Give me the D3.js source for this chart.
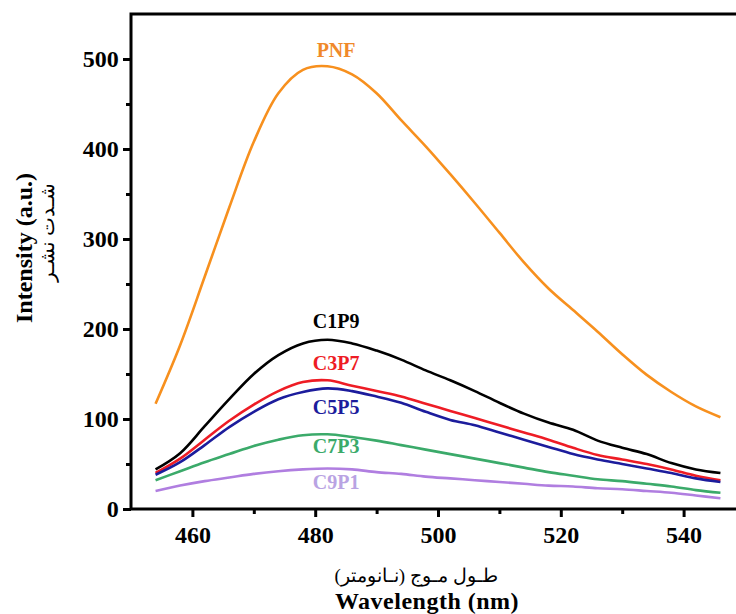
<!DOCTYPE html>
<html><head><meta charset="utf-8">
<script src="https://cdn.jsdelivr.net/npm/d3@7"></script>
<style>
html,body{margin:0;padding:0;background:#fff;}
svg text{font-family:"Liberation Serif","Times New Roman",serif;font-weight:bold;}
</style></head>
<body><svg id="c" width="736" height="614"></svg>
<script>
// ---- data ----
const wavelengths = [454,458,462,466,470,474,478,482,486,490,494,498,502,506,510,514,518,522,526,530,534,538,542,546];
const PNF  = [117,182,258,335,408,462,488,492,483,462,432,403,372,340,307,274,245,221,197,172,149,130,114,102];
const C1P9 = [44,62,92,122,150,171,184,188,184,176,166,154,143,131,118,106,96,88,76,68,61,51,44,40];
const C3P7 = [40,56,77,98,116,131,141,143,137,131,125,117,109,101,93,85,77,68,60,55,50,44,37,32];
const C5P5 = [38,52,71,91,108,122,130,134,131,125,118,108,99,93,85,77,69,61,55,50,45,40,34,30];
const C7P3 = [32,42,52,61,70,77,82,83,80,76,71,66,61,56,51,46,41,37,33,31,28,25,21,18];
const C9P1 = [20,26,31,35,39,42,44,45,44,41,39,36,34,32,30,28,26,25,23,22,20,18,15,12];
const seriesNames = ["PNF","C1P9","C3P7","C5P5","C7P3","C9P1"];
const seriesValues = [PNF,C1P9,C3P7,C5P5,C7P3,C9P1];
const lineColors = ["#F7901E","#000000","#EE1C25","#1C1C9C","#3BAA6A","#B07EE0"];
const labelColors = ["#F0892A","#000000","#EE1C25","#1C1C9C","#3BAA6A","#B9A3E3"];
const labelPos = [[483.4,502],[483.4,201],[483.4,155],[483.4,106],[483.4,62],[483.4,22]]; // [wavelength, intensity] label baselines
const xTicks = [460,480,500,520,540];
const xMinor = [470,490,510,530];
const yTicks = [0,100,200,300,400,500];
const yMinor = [50,150,250,350,450];

// ---- layout ----
const L = 131, R = 745, T = 14, B = 509;
const svg = d3.select("#c");
const x = d3.scaleLinear().domain([450,550]).range([L,R]);
const y = d3.scaleLinear().domain([0,550]).range([B,T]);

// lines
const line = d3.line().x((d,i)=>x(wavelengths[i])).y(d=>y(d)).curve(d3.curveCatmullRom.alpha(0.5));
seriesValues.forEach((vals,k)=>{
  svg.append("path").datum(vals).attr("d",line)
    .attr("fill","none").attr("stroke",lineColors[k]).attr("stroke-width",2.6)
    .attr("stroke-linejoin","round");
});

// labels
seriesNames.forEach((n,k)=>{
  svg.append("text").attr("x",x(labelPos[k][0])).attr("y",y(labelPos[k][1]))
    .attr("text-anchor","middle").attr("font-size",20).attr("fill",labelColors[k]).text(n);
});

// axes
const xAxis = d3.axisBottom(x).tickValues(xTicks).tickSize(8).tickFormat(d3.format("d"));
const xAxisMinor = d3.axisBottom(x).tickValues(xMinor).tickSize(5).tickFormat("");
const yAxis = d3.axisLeft(y).tickValues(yTicks).tickSize(8).tickFormat(d3.format("d"));
const yAxisMinor = d3.axisLeft(y).tickValues(yMinor).tickSize(5).tickFormat("");
function style(g){
  g.select(".domain").remove();
  g.selectAll("line").attr("stroke","#000").attr("stroke-width",3);
  g.selectAll("text").attr("font-size",24).attr("fill","#000")
   .attr("font-family","Liberation Serif").attr("font-weight","bold");
}
svg.append("g").attr("transform",`translate(0,${B})`).call(xAxis).call(style)
  .selectAll("text").attr("dy","0.95em");
svg.append("g").attr("transform",`translate(0,${B})`).call(xAxisMinor).call(style);
svg.append("g").attr("transform",`translate(${L},0)`).call(yAxis).call(style)
  .selectAll("text").attr("dx","-0.05em");
svg.append("g").attr("transform",`translate(${L},0)`).call(yAxisMinor).call(style);

// frame
svg.append("rect").attr("x",L).attr("y",T).attr("width",R-L).attr("height",B-T)
  .attr("fill","none").attr("stroke","#000").attr("stroke-width",3);

// axis titles
svg.append("text").attr("x",416).attr("y",582).attr("text-anchor","middle")
  .attr("font-size",19).attr("direction","rtl").attr("style","font-weight:normal")
  .text("طـول مـوج (نـانومتر)");
svg.append("text").attr("x",427).attr("y",609).attr("text-anchor","middle")
  .attr("font-size",24).attr("letter-spacing",0.5).text("Wavelength (nm)");
svg.append("text").attr("transform","translate(32,248) rotate(-90)").attr("text-anchor","middle")
  .attr("font-size",24).text("Intensity (a.u.)");
svg.append("text").attr("transform","translate(54,232) rotate(-90)").attr("text-anchor","middle")
  .attr("font-size",20).attr("style","font-weight:normal").attr("direction","rtl")
  .text("شـدت نشـر");
</script></body></html>
